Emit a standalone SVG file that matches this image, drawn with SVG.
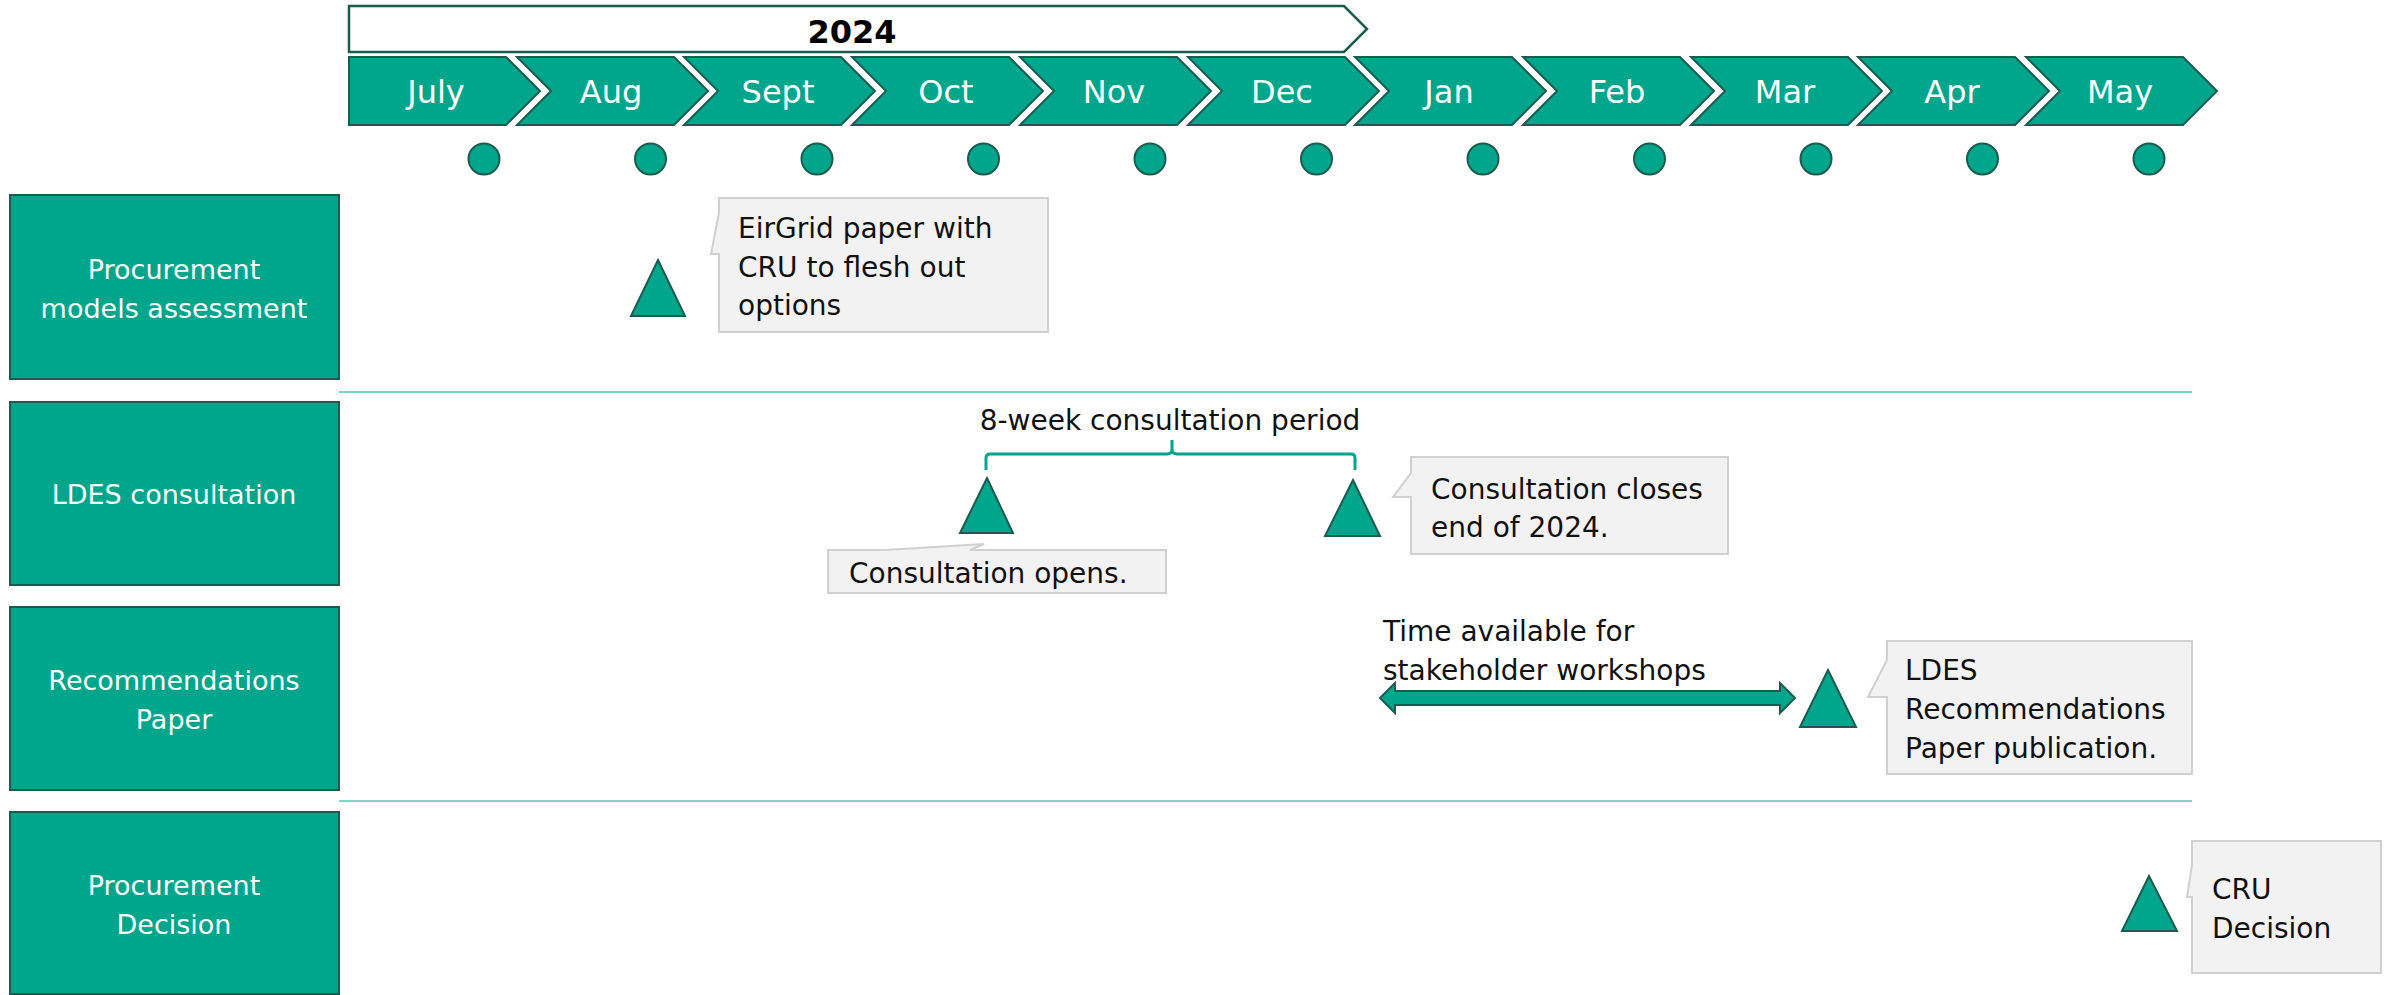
<svg xmlns="http://www.w3.org/2000/svg" width="2392" height="995" viewBox="0 0 2392 995">
<style>
.teal{fill:#00A68C;stroke:#1B5C4E;stroke-width:2}
.mon{font-family:"DejaVu Sans",sans-serif;font-size:32px;fill:#fff;text-anchor:middle}
.lane{font-family:"DejaVu Sans",sans-serif;font-size:27px;fill:#fff;text-anchor:middle}
.co{fill:#F2F2F2;stroke:#D0D0D0;stroke-width:2}
.ct{font-family:"DejaVu Sans",sans-serif;font-size:28px;fill:#111}
.sep{stroke:#7FD4C7;stroke-width:2}
</style>
<rect width="2392" height="995" fill="#fff"/>
<g id="year">
<path d="M349,6 H1344 L1367,29 L1344,52 H349 Z" fill="#fff" stroke="#1B5C4E" stroke-width="2.5"/>
<text x="852" y="43" font-family="DejaVu Sans,sans-serif" font-size="32" font-weight="bold" text-anchor="middle" fill="#000">2024</text>
</g>
<g id="months">
<g id="m-jul"><path class="teal" d="M349,57 H506 L540,91 L506,125 H349 Z"/><text class="mon" x="436" y="103">July</text></g>
<g id="m-aug"><path class="teal" d="M517,57 H674 L708,91 L674,125 H517 L551,91 Z"/><text class="mon" x="611" y="103">Aug</text></g>
<g id="m-sep"><path class="teal" d="M684,57 H841 L875,91 L841,125 H684 L718,91 Z"/><text class="mon" x="778" y="103">Sept</text></g>
<g id="m-oct"><path class="teal" d="M852,57 H1009 L1043,91 L1009,125 H852 L886,91 Z"/><text class="mon" x="946" y="103">Oct</text></g>
<g id="m-nov"><path class="teal" d="M1020,57 H1177 L1211,91 L1177,125 H1020 L1054,91 Z"/><text class="mon" x="1114" y="103">Nov</text></g>
<g id="m-dec"><path class="teal" d="M1188,57 H1345 L1379,91 L1345,125 H1188 L1222,91 Z"/><text class="mon" x="1282" y="103">Dec</text></g>
<g id="m-jan"><path class="teal" d="M1355,57 H1512 L1546,91 L1512,125 H1355 L1389,91 Z"/><text class="mon" x="1449" y="103">Jan</text></g>
<g id="m-feb"><path class="teal" d="M1523,57 H1680 L1714,91 L1680,125 H1523 L1557,91 Z"/><text class="mon" x="1617" y="103">Feb</text></g>
<g id="m-mar"><path class="teal" d="M1691,57 H1848 L1882,91 L1848,125 H1691 L1725,91 Z"/><text class="mon" x="1785" y="103">Mar</text></g>
<g id="m-apr"><path class="teal" d="M1858,57 H2015 L2049,91 L2015,125 H1858 L1892,91 Z"/><text class="mon" x="1952" y="103">Apr</text></g>
<g id="m-may"><path class="teal" d="M2026,57 H2183 L2217,91 L2183,125 H2026 L2060,91 Z"/><text class="mon" x="2120" y="103">May</text></g>
</g>
<g id="dots">
<circle class="teal" cx="484" cy="159" r="15.5"/>
<circle class="teal" cx="650.5" cy="159" r="15.5"/>
<circle class="teal" cx="817" cy="159" r="15.5"/>
<circle class="teal" cx="983.5" cy="159" r="15.5"/>
<circle class="teal" cx="1150" cy="159" r="15.5"/>
<circle class="teal" cx="1316.5" cy="159" r="15.5"/>
<circle class="teal" cx="1483" cy="159" r="15.5"/>
<circle class="teal" cx="1649.5" cy="159" r="15.5"/>
<circle class="teal" cx="1816" cy="159" r="15.5"/>
<circle class="teal" cx="1982.5" cy="159" r="15.5"/>
<circle class="teal" cx="2149" cy="159" r="15.5"/>
</g>
<g id="separators">
<line class="sep" x1="339" y1="392" x2="2192" y2="392"/>
<line class="sep" x1="339" y1="801" x2="2192" y2="801"/>
</g>
<g id="lane-procurement-models">
<rect class="teal" x="10" y="195" width="329" height="184"/>
<text class="lane" x="174" y="279">Procurement</text>
<text class="lane" x="174" y="318">models assessment</text>
</g>
<g id="lane-ldes-consultation">
<rect class="teal" x="10" y="402" width="329" height="183"/>
<text class="lane" x="174" y="504">LDES consultation</text>
</g>
<g id="lane-recommendations">
<rect class="teal" x="10" y="607" width="329" height="183"/>
<text class="lane" x="174" y="690">Recommendations</text>
<text class="lane" x="174" y="729">Paper</text>
</g>
<g id="lane-procurement-decision">
<rect class="teal" x="10" y="812" width="329" height="182"/>
<text class="lane" x="174" y="895">Procurement</text>
<text class="lane" x="174" y="934">Decision</text>
</g>
<g id="ms-eirgrid">
<path class="teal" d="M658,260 L685,316 L631,316 Z"/>
<path class="co" d="M719,198 H1048 V332 H719 V254 H711 L719,213 Z"/>
<text class="ct" x="738" y="238">EirGrid paper with</text>
<text class="ct" x="738" y="277">CRU to flesh out</text>
<text class="ct" x="738" y="315">options</text>
</g>
<g id="ms-opens">
<path class="teal" d="M987,478 L1013,533 L960,533 Z"/>
<path class="co" d="M828,550 H885 L984,544 L970,550 H1166 V593 H828 Z"/>
<text class="ct" x="849" y="583">Consultation opens.</text>
</g>
<g id="ms-closes">
<path class="teal" d="M1353,480 L1380,536 L1325,536 Z"/>
<path class="co" d="M1411,457 H1728 V554 H1411 V497 H1393 L1411,473 Z"/>
<text class="ct" x="1431" y="499">Consultation closes</text>
<text class="ct" x="1431" y="537">end of 2024.</text>
</g>
<g id="ms-ldes">
<path class="teal" d="M1828,670 L1856,727 L1800,727 Z"/>
<path class="co" d="M1887,641 H2192 V774 H1887 V697 H1868 L1887,660 Z"/>
<text class="ct" x="1905" y="680">LDES</text>
<text class="ct" x="1905" y="719">Recommendations</text>
<text class="ct" x="1905" y="758">Paper publication.</text>
</g>
<g id="ms-cru">
<path class="teal" d="M2149,876 L2177,931 L2122,931 Z"/>
<path class="co" d="M2192,841 H2381 V973 H2192 V897 H2187 L2192,865 Z"/>
<text class="ct" x="2212" y="899">CRU</text>
<text class="ct" x="2212" y="938">Decision</text>
</g>
<g id="connectors">
<path d="M986,470 V458 Q986,454 990,454 H1167 Q1172,454 1172,449 V440 M1172,449 Q1172,454 1177,454 H1351 Q1355,454 1355,458 V470" fill="none" stroke="#00A68C" stroke-width="3"/>
<text class="ct" x="1170" y="430" text-anchor="middle">8-week consultation period</text>
<path class="teal" stroke-width="2.5" d="M1380,698 L1395,683 V691 H1780 V683 L1795,698 L1780,713 V705 H1395 V713 Z"/>
<text class="ct" x="1383" y="641">Time available for</text>
<text class="ct" x="1383" y="680">stakeholder workshops</text>
</g>
</svg>
